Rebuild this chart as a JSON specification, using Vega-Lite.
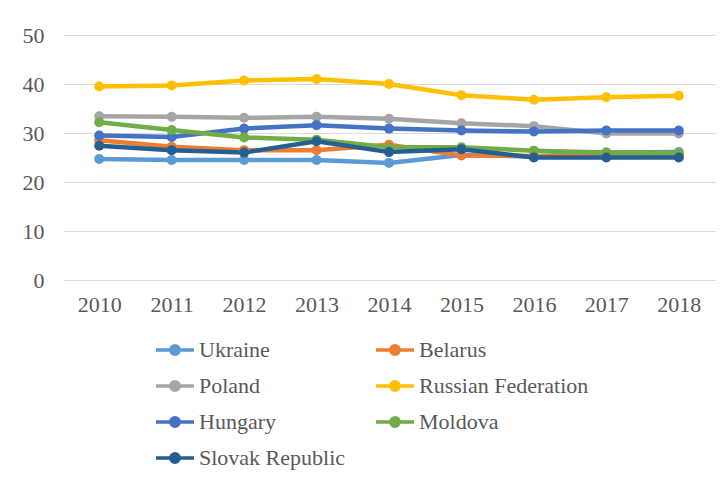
{
  "$schema": "https://vega.github.io/schema/vega-lite/v6.json",
  "width": 652,
  "height": 245,
  "autosize": "none",
  "padding": {"left": 63, "top": 35, "right": 8, "bottom": 198},
  "background": "white",
  "data": {"values": [
    {"country": "Ukraine", "year": "2010", "value": 24.7},
    {"country": "Ukraine", "year": "2011", "value": 24.5},
    {"country": "Ukraine", "year": "2012", "value": 24.5},
    {"country": "Ukraine", "year": "2013", "value": 24.5},
    {"country": "Ukraine", "year": "2014", "value": 23.9},
    {"country": "Ukraine", "year": "2015", "value": 25.5},
    {"country": "Ukraine", "year": "2016", "value": 25.2},
    {"country": "Ukraine", "year": "2017", "value": 26.0},
    {"country": "Ukraine", "year": "2018", "value": 26.1},
    {"country": "Belarus", "year": "2010", "value": 28.5},
    {"country": "Belarus", "year": "2011", "value": 27.2},
    {"country": "Belarus", "year": "2012", "value": 26.5},
    {"country": "Belarus", "year": "2013", "value": 26.5},
    {"country": "Belarus", "year": "2014", "value": 27.6},
    {"country": "Belarus", "year": "2015", "value": 25.4},
    {"country": "Belarus", "year": "2016", "value": 25.3},
    {"country": "Belarus", "year": "2017", "value": 25.4},
    {"country": "Belarus", "year": "2018", "value": 25.5},
    {"country": "Poland", "year": "2010", "value": 33.4},
    {"country": "Poland", "year": "2011", "value": 33.3},
    {"country": "Poland", "year": "2012", "value": 33.1},
    {"country": "Poland", "year": "2013", "value": 33.3},
    {"country": "Poland", "year": "2014", "value": 32.9},
    {"country": "Poland", "year": "2015", "value": 32.0},
    {"country": "Poland", "year": "2016", "value": 31.4},
    {"country": "Poland", "year": "2017", "value": 29.9},
    {"country": "Poland", "year": "2018", "value": 29.9},
    {"country": "Russian Federation", "year": "2010", "value": 39.5},
    {"country": "Russian Federation", "year": "2011", "value": 39.7},
    {"country": "Russian Federation", "year": "2012", "value": 40.7},
    {"country": "Russian Federation", "year": "2013", "value": 41.0},
    {"country": "Russian Federation", "year": "2014", "value": 40.0},
    {"country": "Russian Federation", "year": "2015", "value": 37.7},
    {"country": "Russian Federation", "year": "2016", "value": 36.8},
    {"country": "Russian Federation", "year": "2017", "value": 37.3},
    {"country": "Russian Federation", "year": "2018", "value": 37.6},
    {"country": "Hungary", "year": "2010", "value": 29.5},
    {"country": "Hungary", "year": "2011", "value": 29.2},
    {"country": "Hungary", "year": "2012", "value": 30.9},
    {"country": "Hungary", "year": "2013", "value": 31.6},
    {"country": "Hungary", "year": "2014", "value": 30.9},
    {"country": "Hungary", "year": "2015", "value": 30.5},
    {"country": "Hungary", "year": "2016", "value": 30.3},
    {"country": "Hungary", "year": "2017", "value": 30.5},
    {"country": "Hungary", "year": "2018", "value": 30.5},
    {"country": "Moldova", "year": "2010", "value": 32.2},
    {"country": "Moldova", "year": "2011", "value": 30.6},
    {"country": "Moldova", "year": "2012", "value": 29.1},
    {"country": "Moldova", "year": "2013", "value": 28.6},
    {"country": "Moldova", "year": "2014", "value": 27.1},
    {"country": "Moldova", "year": "2015", "value": 27.1},
    {"country": "Moldova", "year": "2016", "value": 26.4},
    {"country": "Moldova", "year": "2017", "value": 26.0},
    {"country": "Moldova", "year": "2018", "value": 25.9},
    {"country": "Slovak Republic", "year": "2010", "value": 27.4},
    {"country": "Slovak Republic", "year": "2011", "value": 26.5},
    {"country": "Slovak Republic", "year": "2012", "value": 26.0},
    {"country": "Slovak Republic", "year": "2013", "value": 28.3},
    {"country": "Slovak Republic", "year": "2014", "value": 26.1},
    {"country": "Slovak Republic", "year": "2015", "value": 26.7},
    {"country": "Slovak Republic", "year": "2016", "value": 25.0},
    {"country": "Slovak Republic", "year": "2017", "value": 25.0},
    {"country": "Slovak Republic", "year": "2018", "value": 25.0}
  ]},
  "mark": {"type": "line", "strokeWidth": 4.5, "point": {"filled": true, "size": 100, "opacity": 1}},
  "encoding": {
    "x": {
      "field": "year", "type": "ordinal",
      "scale": {"type": "point", "padding": 0.5},
      "axis": {"title": null, "labelAngle": 0, "domain": false, "ticks": false, "grid": false, "labelPadding": 14}
    },
    "y": {
      "field": "value", "type": "quantitative",
      "scale": {"domain": [0, 50], "nice": false},
      "axis": {"title": null, "values": [0, 10, 20, 30, 40, 50], "domain": false, "ticks": false, "labelPadding": 19, "grid": true}
    },
    "color": {
      "field": "country", "type": "nominal",
      "scale": {
        "domain": ["Ukraine", "Belarus", "Poland", "Russian Federation", "Hungary", "Moldova", "Slovak Republic"],
        "range": ["#5B9BD5", "#ED7D31", "#A5A5A5", "#FFC000", "#4472C4", "#70AD47", "#255E91"]
      },
      "legend": {
        "title": null,
        "orient": "none",
        "legendX": 91,
        "legendY": 304,
        "columns": 2,
        "direction": "horizontal",
        "padding": 0,
        "symbolType": "M-1,0L1,0M0.22,0C0.22,0.1215 0.1215,0.22 0,0.22C-0.1215,0.22 -0.22,0.1215 -0.22,0C-0.22,-0.1215 -0.1215,-0.22 0,-0.22C0.1215,-0.22 0.22,-0.1215 0.22,0Z",
        "symbolSize": 1444,
        "symbolStrokeWidth": 3.5,
        "labelOffset": 3,
        "rowPadding": 14,
        "columnPadding": 28,
        "clipHeight": 22,
        "labelFont": "Liberation Serif, DejaVu Serif, serif",
        "labelFontSize": 22,
        "labelColor": "#595959",
        "labelLimit": 400,
        "encode": {"symbols": {"update": {"fill": {"scale": "color", "field": "value"}, "fillOpacity": {"value": 1}}}}
      }
    }
  },
  "config": {
    "view": {"stroke": null},
    "axis": {"labelFont": "Liberation Serif, DejaVu Serif, serif", "labelFontSize": 22, "labelColor": "#595959", "gridColor": "#D9D9D9", "gridWidth": 1}
  }
}
